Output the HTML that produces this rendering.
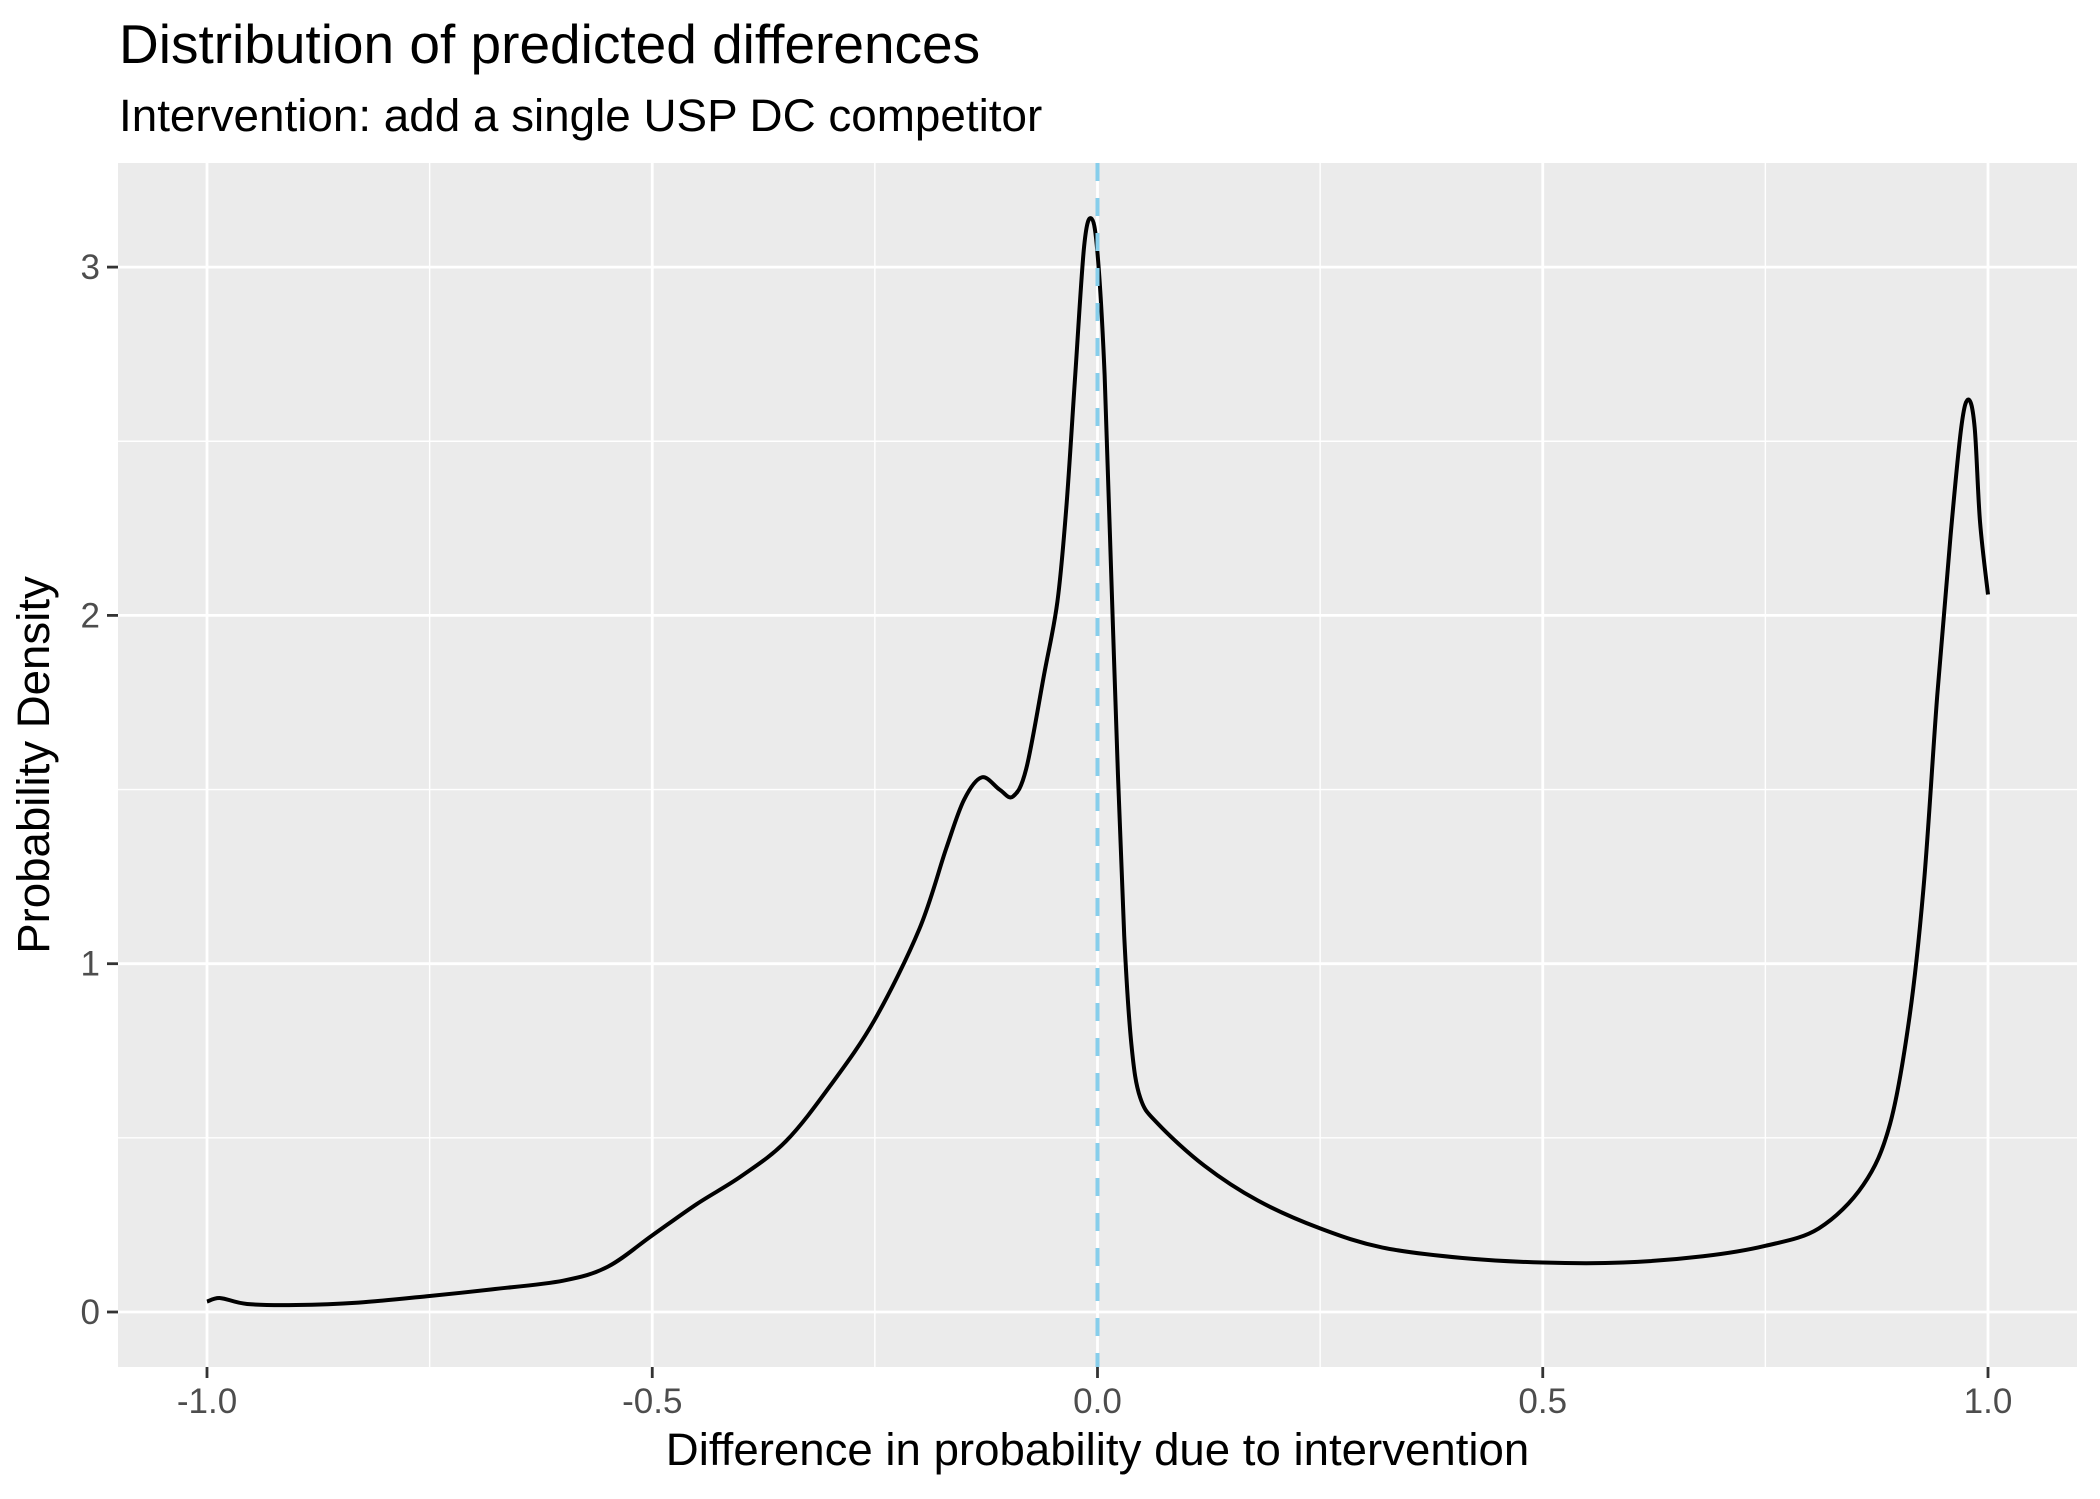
<!DOCTYPE html>
<html><head><meta charset="utf-8"><style>
html,body{margin:0;padding:0;background:#fff;}
svg{display:block;}
text{font-family:"Liberation Sans",sans-serif;}
</style></head><body>
<svg id="s" width="2100" height="1499" viewBox="0 0 2100 1499" xmlns="http://www.w3.org/2000/svg">
<rect x="0" y="0" width="2100" height="1499" fill="#fff"/>
<rect x="118" y="163" width="1959" height="1204" fill="#EBEBEB"/>
<g id="grid"></g>
<path id="curve" fill="none" stroke="#000" stroke-width="4" stroke-linejoin="round"/>
<line x1="1097.5" y1="163" x2="1097.5" y2="1367" stroke="#87CEEB" stroke-width="4" stroke-dasharray="18,17"/>
<g id="ticks"></g>
<text x="119" y="63" font-size="55" fill="#000">Distribution of predicted differences</text>
<text x="119" y="131" font-size="45.8" fill="#000">Intervention: add a single USP DC competitor</text>
<text x="1097.5" y="1465" font-size="45.6" text-anchor="middle" fill="#000">Difference in probability due to intervention</text>
<text transform="translate(49,765) rotate(-90)" font-size="45.6" text-anchor="middle" fill="#000">Probability Density</text>
</svg>
<script>
var X=function(x){return 1097.5+x*890.5}, Y=function(d){return 1312-d*348.3};
var g='',t='';
[-0.75,-0.25,0.25,0.75].forEach(function(v){g+='<line x1="'+X(v)+'" y1="163" x2="'+X(v)+'" y2="1367" stroke="#fff" stroke-width="1.4"/>';});
[0.5,1.5,2.5].forEach(function(v){g+='<line x1="118" y1="'+Y(v)+'" x2="2077" y2="'+Y(v)+'" stroke="#fff" stroke-width="1.4"/>';});
[-1,-0.5,0,0.5,1].forEach(function(v){g+='<line x1="'+X(v)+'" y1="163" x2="'+X(v)+'" y2="1367" stroke="#fff" stroke-width="2.8"/>';
 t+='<line x1="'+X(v)+'" y1="1367" x2="'+X(v)+'" y2="1378" stroke="#333" stroke-width="2.8"/>';
 t+='<text x="'+X(v)+'" y="1413" font-size="35" fill="#4D4D4D" text-anchor="middle">'+v.toFixed(1)+'</text>';});
[0,1,2,3].forEach(function(v){g+='<line x1="118" y1="'+Y(v)+'" x2="2077" y2="'+Y(v)+'" stroke="#fff" stroke-width="2.8"/>';
 t+='<line x1="107" y1="'+Y(v)+'" x2="118" y2="'+Y(v)+'" stroke="#333" stroke-width="2.8"/>';
 t+='<text x="100" y="'+(Y(v)+12)+'" font-size="35" fill="#4D4D4D" text-anchor="end">'+v+'</text>';});
document.getElementById('grid').innerHTML=g;
document.getElementById('ticks').innerHTML=t;
var pts=[[-1,0.03],[-0.985,0.04],[-0.955,0.023],[-0.9,0.02],[-0.83,0.027],[-0.75,0.046],[-0.68,0.065],[-0.6,0.09],[-0.55,0.13],[-0.5,0.22],[-0.45,0.31],[-0.4,0.39],[-0.35,0.49],[-0.3,0.65],[-0.25,0.84],[-0.2,1.1],[-0.17,1.33],[-0.15,1.47],[-0.13,1.535],[-0.11,1.5],[-0.095,1.48],[-0.08,1.56],[-0.06,1.83],[-0.045,2.04],[-0.035,2.31],[-0.025,2.69],[-0.015,3.06],[-0.007,3.14],[0.0,3.04],[0.008,2.69],[0.015,2.15],[0.023,1.54],[0.03,1.08],[0.038,0.77],[0.048,0.615],[0.068,0.54],[0.12,0.42],[0.18,0.32],[0.25,0.24],[0.32,0.185],[0.41,0.155],[0.5,0.142],[0.59,0.142],[0.68,0.16],[0.75,0.19],[0.81,0.24],[0.86,0.365],[0.89,0.54],[0.912,0.85],[0.928,1.23],[0.943,1.77],[0.958,2.23],[0.97,2.54],[0.978,2.62],[0.985,2.54],[0.991,2.27],[1.0,2.06]];
var p=pts.map(function(a){return [X(a[0]),Y(a[1])];});
var d='M'+p[0][0]+','+p[0][1];
for(var i=0;i<p.length-1;i++){var p0=p[i-1]||p[i],p1=p[i],p2=p[i+1],p3=p[i+2]||p2;
 d+=' C'+(p1[0]+(p2[0]-p0[0])/6)+','+(p1[1]+(p2[1]-p0[1])/6)+' '+(p2[0]-(p3[0]-p1[0])/6)+','+(p2[1]-(p3[1]-p1[1])/6)+' '+p2[0]+','+p2[1];}
document.getElementById('curve').setAttribute('d',d);
</script>
</body></html>
